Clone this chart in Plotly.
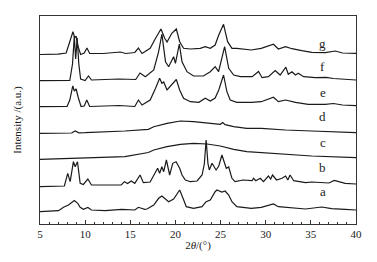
import plotly.graph_objects as go

# diffraction patterns, values (stacked, arbitrary units)
a_x = [5, 7.05, 7.6, 8.15, 8.8, 9.18, 9.45, 9.8, 10.3, 10.7, 12.2, 14.05, 15.5, 15.9, 16.6, 16.85,
       17.6, 18.14, 18.5, 18.9, 19.25, 19.8, 20.47, 20.84, 21.2, 22.0, 22.95, 23.4, 23.86, 24.4,
       24.6, 25.15, 25.5, 25.9, 26.26, 26.8, 27.9, 28.4, 29.5, 30.86, 31.4, 32.5, 34.4, 36.2,
       37.3, 38.8, 40]
a_y = [12.3, 13.3, 16.7, 19, 23.5, 20.7, 16.7, 14.7, 16.5, 14, 13.3, 14.7, 14, 16.7, 14.7, 15,
       19, 25.7, 28, 24.7, 22.3, 25, 34, 25.7, 17.3, 15.7, 17.3, 22.3, 24, 32.3,
       34, 32, 33, 29, 22.3, 17.3, 15.7, 15.7, 16.7, 20, 17.3, 16.3, 15, 17,
       15.3, 14.7, 14]

b_x = [5, 7.7, 8.07, 8.34, 8.7, 8.9, 9.15, 9.45, 9.8, 10.3, 10.7, 14.0, 14.35, 14.7, 15.1, 15.5,
       16.08, 16.45, 17.2, 17.8, 18.03, 18.25, 18.5, 18.7, 19.0, 19.36, 19.7, 20.07, 20.25, 20.47,
       20.73, 21.1, 21.65, 22.4, 22.95, 23.2, 23.4, 23.6, 23.75, 24.05, 24.5, 24.8, 25.15, 25.4,
       25.63, 25.9, 26.26, 26.6, 27.5, 28.5, 28.65, 28.9, 29.4, 29.75, 30.3, 30.55, 30.75, 31.2,
       31.8, 32.2, 32.45, 32.7, 33.1, 34.4, 35.1, 37.0, 37.6, 38.8, 40]
b_y = [37.3, 38, 50.7, 42.3, 62.3, 57.3, 62.3, 40.7, 39.5, 45, 39, 39, 42.3, 40.5, 43, 40.7,
       49, 41.3, 42, 52.3, 55.7, 50.7, 57.3, 52.3, 64, 49, 60.7, 62.3, 59.7, 55.7,
       49, 44, 42.3, 43, 49, 60, 84, 60.7, 54, 60.7, 54, 58, 69, 62,
       55.7, 57, 45.7, 42.3, 44, 43.3, 45.7, 43.3, 45.7, 42.3, 48, 45, 49, 44,
       45.7, 48, 44, 49, 43.3, 41.3, 42, 41, 43.5, 40.7, 40]

c_x = [5, 8.5, 12.2, 14.4, 17.0, 17.6, 19.07, 20.55, 22.0, 23.5, 24.97, 26.45, 27.9, 29.5,
       32.2, 35.1, 40]
c_y = [64.7, 65.7, 66.3, 67.3, 71.5, 74, 77.3, 79.7, 80.7, 80, 78, 74.7, 72.3, 71.3,
       69.7, 68, 66.3]

d_x = [5, 8.5, 8.9, 9.3, 10.0, 12.2, 14.4, 17.0, 17.6, 19.07, 20.55, 22.0, 23.5, 24.97, 25.25,
       25.5, 26.45, 27.9, 29.5, 32.2, 35.1, 40]
d_y = [90.7, 91, 93, 91.2, 91.3, 92, 93, 94.7, 97.3, 100.7, 103, 102.3, 100.7, 99.7, 101.5,
       99.3, 97.3, 95.7, 95.7, 94, 93, 91.3]

e_x = [5, 8.0, 8.3, 8.63, 8.8, 9.0, 9.25, 9.55, 9.9, 10.18, 10.5, 13.8, 15.5, 15.9, 16.3, 17.2,
       17.8, 18.25, 18.5, 18.7, 19.07, 19.6, 20.1, 20.47, 20.9, 21.65, 22.6, 23.3, 23.86, 24.4,
       24.8, 25.33, 25.7, 26.07, 26.8, 28.4, 29.5, 30.86, 31.4, 32.2, 33.3, 34.7, 36.6, 37.5,
       38.5, 40]
e_y = [117.3, 117.5, 124, 138.2, 133, 135, 126, 117.5, 118, 124, 117.5, 118.5, 117.5, 124, 119, 124,
       135.7, 145.7, 140.7, 142, 134, 139, 144.5, 134, 125.7, 122.3, 121.7, 125.7, 123, 126,
       134, 149, 132.3, 124, 121.7, 121.7, 122.3, 126.7, 122.3, 124, 121.7, 119.7, 119.7, 120.5,
       119, 118.3]

f_x = [5, 8.3, 8.6, 8.8, 8.95, 9.12, 9.3, 9.5, 10.0, 10.37, 10.7, 13.7, 15.6, 16.08, 16.67, 17.6,
       18.14, 18.5, 18.9, 19.25, 19.8, 20.0, 20.43, 20.73, 21.28, 22.0, 23.1, 23.86, 24.4, 24.78,
       25.45, 25.9, 26.45, 27.2, 28.5, 29.2, 29.6, 30.3, 31.05, 31.6, 32.23, 32.5, 32.9, 33.3,
       33.6, 34.2, 35.5, 36.7, 37.5, 40]
f_y = [143.3, 143.5, 160, 188, 165, 186, 160, 145, 143.5, 148, 144, 145, 144.5, 151, 147.3, 154,
       172.3, 190, 162.3, 157.3, 167.3, 160.7, 180, 162.3, 152.3, 148, 148, 152.3, 157.3, 152.3,
       177.3, 155.7, 149, 147.3, 147.3, 152.5, 146.3, 147.3, 153.5, 149, 156.8, 149.7, 152.3, 149,
       150.7, 147.3, 146.3, 146.7, 145.5, 144]

g_x = [5, 7, 7.9, 8.3, 8.65, 8.85, 9.0, 9.2, 9.5, 9.9, 10.2, 10.5, 12, 13.9, 14.5, 15.5, 15.9,
       16.3, 17.2, 17.8, 18.4, 18.8, 19.07, 19.6, 20.1, 20.47, 20.9, 21.65, 22.75, 23.3, 23.86,
       24.4, 24.8, 25.33, 25.78, 26.26, 26.8, 28.4, 29.5, 30.86, 31.4, 32.2, 32.9, 34.0, 35.1,
       36.6, 37.7, 38.5, 40]
g_y = [169.5, 169.8, 171, 182, 192.3, 186, 188, 178, 169.5, 171, 176, 170.5, 170.5, 172, 170.5, 171.5, 176,
       170.5, 175.7, 185.7, 195, 186, 182, 190.7, 195, 182.3, 175.7, 175, 175.7, 177.3, 175.7,
       179, 189, 199.7, 182.3, 175.7, 175.7, 174, 175.7, 179.7, 175, 177.3, 175.3, 173.3, 171.7,
       171.3, 173, 171, 170.7]

labels = ["a", "b", "c", "d", "e", "f", "g"]
label_y = [32.3, 56.7, 81.7, 108, 131.7, 157.3, 180.7]
label_x = 36.3

series = [(a_x, a_y), (b_x, b_y), (c_x, c_y), (d_x, d_y), (e_x, e_y), (f_x, f_y), (g_x, g_y)]

font = "Liberation Serif, Times New Roman, serif"

fig = go.Figure()
for (xs, ys), name in zip(series, labels):
    fig.add_trace(go.Scatter(x=xs, y=ys, mode="lines", name=name,
                             line={"color": "#1a1a1a", "width": 1.2}, showlegend=False))

for name, ly in zip(labels, label_y):
    fig.add_annotation(x=label_x, y=ly, text=name, showarrow=False,
                       font={"family": font, "size": 13, "color": "#222"})

# page body adds an 8px margin, so the figure is sized to fill the window without it
fig.update_layout(
    width=361, height=246,
    margin={"l": 32, "r": 13, "t": 8, "b": 30, "autoexpand": False},
    paper_bgcolor="white", plot_bgcolor="white",
    font={"family": font, "size": 11, "color": "#222"},
)
fig.update_xaxes(
    range=[5, 40], dtick=5, tick0=5, ticks="inside", ticklen=4, tickcolor="#333",
    minor={"dtick": 1, "ticks": "inside", "ticklen": 2, "tickcolor": "#333"},
    showline=True, linecolor="#333", linewidth=1, mirror=True, showgrid=False, zeroline=False,
    title={"text": "2<i>θ</i>/(°)", "standoff": 2, "font": {"size": 11}},
    tickfont={"size": 11}, automargin=False,
)
fig.update_yaxes(
    range=[0, 208], showticklabels=False, ticks="",
    showline=True, linecolor="#333", linewidth=1, mirror=True, showgrid=False, zeroline=False,
    title={"text": "Intensity /(a.u.)", "standoff": 15, "font": {"size": 11}},
    automargin=False,
)

fig.write_html("out.html")
